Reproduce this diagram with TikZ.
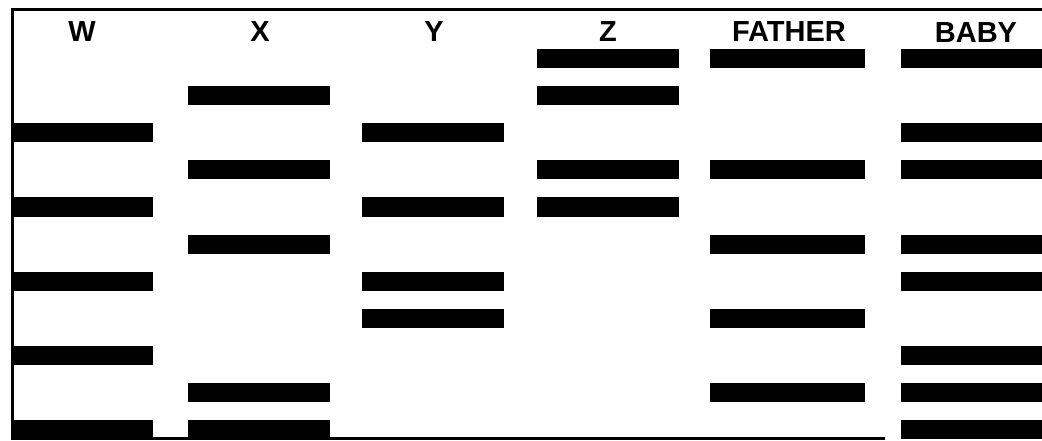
\documentclass[tikz,border=0pt]{standalone}
\usepackage{fontspec}
\setmainfont{Liberation Sans}
\usepackage{tikz}
\usetikzlibrary{positioning}

\begin{document}
\begin{tikzpicture}[
        x=1pt, y=-1pt,
        band/.style={rectangle, fill=black, inner sep=0pt, minimum height=19pt, minimum width=142pt},
        wideband/.style={band, minimum width=155pt},
        lanelabel/.style={font=\fontsize{29}{29}\selectfont\bfseries, inner sep=0pt, anchor=base}
    ]
        \useasboundingbox (0,0) rectangle (1042,441);

        % frame of the gel
        \coordinate (topright) at (1042,10);
        \coordinate (topleft) at (12,10);
        \coordinate (botleft) at (12,438);
        \coordinate (botright) at (885,438);
        \draw[line width=3pt] (topright) -- (topleft) -- (botleft) -- (botright);

        % lane labels
        \node[lanelabel] (labw) at (82,42) {W};
        \node[lanelabel] (labx) at (260,42) {X};
        \node[lanelabel] (laby) at (434,42) {Y};
        \node[lanelabel] (labz) at (608,42) {Z};
        \node[lanelabel] (labfather) at (789,42) {FATHER};
        \node[lanelabel] (labbaby) at (976,43) {BABY};

        % bands, row r sits at y = 59 + 37 r
        \foreach \r in {2,4,6,8,10}
            \node[band] (w\r) at (82,59+37*\r) {};
        \foreach \r in {1,3,5,9,10}
            \node[band] (x\r) at (259,59+37*\r) {};
        \foreach \r in {2,4,6,7}
            \node[band] (y\r) at (433,59+37*\r) {};
        \foreach \r in {0,1,3,4}
            \node[band] (z\r) at (607.5,59+37*\r) {};
        \foreach \r in {0,3,5,7,9}
            \node[wideband] (f\r) at (787.5,59+37*\r) {};
        \foreach \r in {0,2,3,5,6,8,9,10}
            \node[band] (b\r) at (972,59+37*\r) {};
    \end{tikzpicture}
\end{document}
